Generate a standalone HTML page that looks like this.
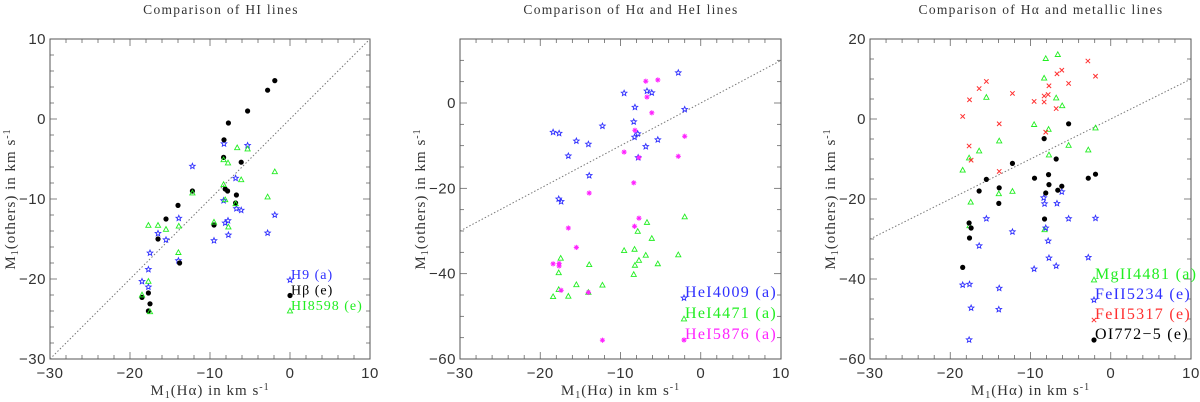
<!DOCTYPE html>
<html><head><meta charset="utf-8"><style>
html,body{margin:0;padding:0;background:#fff;}
svg{display:block;font-family:"Liberation Serif",serif;}
</style></head><body>
<svg id="fig" width="1200" height="402" viewBox="0 0 1200 402"></svg>
<script>
// Panel 1 data (HI lines)
const p1HdotsX=[-1.9,-2.8,-5.3,-7.7,-8.25,-8.3,-6.1,-8.1,-7.8,-6.7,-6.8,-9.5,-12.2,-14.0,-15.5,-16.5,-13.8,-17.7,-18.5,-17.5,-17.7];
const p1HdotsY=[4.8,3.6,1.0,-0.5,-2.6,-4.8,-5.4,-8.75,-9.0,-9.5,-10.5,-13.25,-9.0,-10.8,-12.5,-15.0,-18.0,-21.75,-22.3,-23.1,-24.0];
const p1H9X=[-5.3,-8.25,-12.2,-6.8,-8.3,-6.7,-6.1,-1.9,-7.75,-8.1,-2.8,-7.7,-9.5,-13.9,-16.5,-15.5,-17.5,-13.95,-17.7,-17.7,-18.5];
const p1H9Y=[-3.3,-3.1,-5.9,-7.4,-10.2,-11.2,-11.4,-12.0,-12.7,-13.0,-14.25,-14.5,-15.2,-12.4,-14.3,-15.1,-16.75,-17.7,-18.8,-21.0,-20.3];
const p1HIX=[-6.6,-5.3,-8.3,-7.75,-6.1,-1.9,-8.3,-12.2,-2.8,-8.1,-6.8,-9.5,-7.7,-17.7,-16.5,-15.5,-13.9,-13.95,-17.7,-18.5,-17.5];
const p1HIY=[-3.6,-3.75,-5.1,-5.5,-7.6,-6.6,-8.2,-9.25,-9.75,-10.1,-10.6,-12.9,-13.5,-13.3,-13.3,-13.8,-13.4,-16.7,-20.3,-22.0,-24.1];
// Panel 2 data (HeI lines)
const p2He4009X=[-2.8,-9.55,-6.7,-6.1,-2.0,-8.2,-8.35,-12.25,-18.4,-17.65,-7.85,-8.25,-5.35,-15.5,-14.0,-6.85,-7.8,-16.5,-13.9,-17.7,-17.4];
const p2He4009Y=[7.1,2.3,2.8,2.4,-1.5,-1.0,-4.4,-5.4,-6.85,-7.1,-7.2,-8.0,-8.6,-8.9,-9.65,-10.2,-12.8,-12.4,-17.0,-22.5,-23.1];
const p2He5876X=[-6.85,-5.35,-6.7,-6.1,-8.2,-2.0,-9.55,-2.8,-7.7,-8.35,-13.9,-7.7,-8.25,-16.5,-15.5,-18.4,-17.65,-17.65,-17.4,-14.0,-12.25];
const p2He5876Y=[5.1,5.4,1.4,-2.3,-6.4,-7.8,-11.5,-12.5,-12.8,-18.7,-21.1,-27.0,-28.9,-29.3,-33.85,-37.7,-37.6,-38.2,-43.9,-44.4,-55.6];
const p2He4471X=[-2.0,-6.7,-7.85,-6.1,-9.55,-8.25,-2.8,-6.85,-7.7,-17.45,-13.9,-8.2,-5.35,-17.7,-8.35,-15.5,-12.25,-17.7,-14.0,-16.5,-18.4];
const p2He4471Y=[-26.7,-28.0,-30.1,-31.75,-34.6,-34.3,-35.6,-35.7,-36.9,-36.4,-37.9,-38.05,-37.7,-39.8,-40.2,-42.6,-42.7,-43.75,-44.4,-45.3,-45.4];
// Panel 3 data (metallic lines)
const p3OIX=[-5.25,-8.3,-6.8,-12.25,-7.75,-1.9,-9.5,-2.8,-15.5,-7.7,-6.1,-13.9,-6.6,-16.4,-8.1,-13.95,-8.25,-17.65,-17.4,-17.6,-18.45];
const p3OIY=[-1.2,-4.9,-10.0,-11.1,-13.9,-13.8,-14.8,-14.8,-15.1,-16.4,-16.8,-17.2,-17.8,-18.0,-18.5,-21.1,-25.0,-26.0,-27.25,-29.75,-37.1];
const p3MgX=[-6.6,-8.1,-8.3,-15.5,-6.8,-6.05,-9.55,-7.75,-1.9,-13.9,-5.25,-16.4,-2.8,-7.7,-17.65,-18.45,-12.25,-13.95,-17.45,-17.6,-8.25];
const p3MgY=[16.1,15.1,10.2,5.4,5.25,3.3,-1.4,-2.6,-2.25,-5.5,-6.6,-8.0,-7.75,-9.0,-9.75,-12.8,-18.1,-18.7,-20.8,-26.7,-27.7];
const p3Fe5317X=[-2.85,-6.1,-6.7,-1.9,-15.5,-7.7,-5.25,-16.4,-12.25,-7.8,-8.3,-17.6,-9.55,-8.3,-6.8,-18.45,-13.9,-8.1,-17.65,-17.4,-13.9];
const p3Fe5317Y=[14.5,12.2,11.3,10.7,9.4,8.3,8.9,7.6,6.4,6.1,5.75,4.8,4.4,4.25,2.6,0.65,-1.2,-3.3,-6.75,-10.3,-13.1];
const p3Fe5234X=[-6.1,-8.35,-8.25,-6.7,-15.5,-5.25,-1.9,-8.1,-12.25,-7.8,-16.4,-7.7,-2.8,-6.8,-9.55,-18.45,-17.6,-13.9,-17.4,-13.95,-17.65];
const p3Fe5234Y=[-18.2,-19.7,-21.2,-21.1,-24.9,-24.9,-24.8,-27.25,-28.2,-30.5,-31.7,-34.75,-34.6,-36.75,-37.5,-41.5,-41.3,-42.3,-47.25,-47.6,-55.2];

const NS="http://www.w3.org/2000/svg";
const svg=document.getElementById('fig');
function mk(tag,attrs,parent){const e=document.createElementNS(NS,tag);for(const k in attrs)e.setAttribute(k,attrs[k]);(parent||svg).appendChild(e);return e;}
const COL={blue:"#3030ff",black:"#000",green:"#22ee22",magenta:"#ff22ff",red:"#ff3030"};

function marker(g,type,px,py,color){
  let e;
  if(type==='dot'){e=mk('circle',{cx:px,cy:py,r:2.6,fill:color},g);}
  else if(type==='tri'){e=mk('polygon',{points:`${px},${py-2.8} ${px-2.6},${py+1.9} ${px+2.6},${py+1.9}`,fill:'none',stroke:color,'stroke-width':0.9},g);}
  else if(type==='star'){let pts=[];for(let i=0;i<10;i++){const a=-Math.PI/2+i*Math.PI/5;const r=i%2?1.3:2.9;pts.push((px+r*Math.cos(a)).toFixed(2)+','+(py+r*Math.sin(a)).toFixed(2));}
    e=mk('polygon',{points:pts.join(' '),fill:'none',stroke:color,'stroke-width':0.9},g);}
  else if(type==='ast'){e=mk('g',{},g);for(let i=0;i<4;i++){const a=i*Math.PI/4;mk('line',{x1:px-2.6*Math.cos(a),y1:py-2.6*Math.sin(a),x2:px+2.6*Math.cos(a),y2:py+2.6*Math.sin(a),stroke:color,'stroke-width':1},e);}mk('circle',{cx:px,cy:py,r:1.2,fill:color},e);}
  else if(type==='cross'){e=mk('g',{},g);mk('line',{x1:px-2.2,y1:py-2.2,x2:px+2.2,y2:py+2.2,stroke:color,'stroke-width':1},e);mk('line',{x1:px-2.2,y1:py+2.2,x2:px+2.2,y2:py-2.2,stroke:color,'stroke-width':1},e);}
  return e;
}

function panel(cfg){
  const g=mk('g',{});
  
  
  const {x0,x1,y0,y1,xmin,xmax,ymin,ymax}=cfg;
  const sx=v=>x0+(v-xmin)/(xmax-xmin)*(x1-x0);
  const sy=v=>y1-(v-ymin)/(ymax-ymin)*(y1-y0);
  const tg=mk('g',{stroke:'#666','stroke-width':0.8},g);
  for(let v=xmin;v<=xmax+1e-9;v+=2){const maj=Math.abs(v%10)<1e-9;const L=maj?7:4;const X=sx(v);
    mk('line',{x1:X,y1:y1,x2:X,y2:y1-L},tg);mk('line',{x1:X,y1:y0,x2:X,y2:y0+L},tg);}
  for(let v=Math.ceil(ymin/cfg.ymin_step)*cfg.ymin_step;v<=ymax+1e-9;v+=cfg.ymin_step){const maj=Math.abs(v%cfg.ymaj)<1e-9;const L=maj?7:4;const Y=sy(v);
    mk('line',{x1:x0,y1:Y,x2:x0+L,y2:Y},tg);mk('line',{x1:x1,y1:Y,x2:x1-L,y2:Y},tg);}
  const fr=mk('rect',{x:x0,y:y0,width:x1-x0,height:y1-y0,fill:'none',stroke:'#555','stroke-width':1},g);
  
  
  for(let v=xmin;v<=xmax;v+=10){const t=mk('text',{x:sx(v),y:y1+19,'text-anchor':'middle','font-size':15,fill:'#333','font-family':'Liberation Sans, sans-serif','letter-spacing':'0.5'},g);t.textContent=(v<0?'\u2212'+(-v):v);
    }
  for(let v=Math.ceil(ymin/cfg.ymaj)*cfg.ymaj;v<=ymax;v+=cfg.ymaj){const t=mk('text',{x:x0-4,y:sy(v)+5,'text-anchor':'end','font-size':15,fill:'#333','font-family':'Liberation Sans, sans-serif','letter-spacing':'0.5'},g);t.textContent=(v<0?'\u2212'+(-v):v);
    }
  const lo=Math.max(xmin,ymin),hi=Math.min(xmax,ymax);
  const dl=mk('line',{x1:sx(lo),y1:sy(lo),x2:sx(hi),y2:sy(hi),stroke:'#777','stroke-width':1,'stroke-dasharray':'1.5,2'},g);
  
  cfg.series.forEach(s=>{
    const sg=mk('g',{},g);
    
    
    s.xs.forEach((xv,i)=>{const m=marker(sg,s.type,sx(xv),sy(s.ys[i]),s.color);
      
      });
  });
  cfg.series.forEach((s,i)=>{const lx=cfg.lx,ly=cfg.ly+i*cfg.ldy;
    const lg=mk('g',{},g);
    
    
    marker(lg,s.type,lx,ly,s.color);
    const t=mk('text',{x:lx+1,y:ly-1,'font-size':cfg.lfs,fill:s.color,'letter-spacing':cfg.lls},lg);t.innerHTML=s.label;});
  const tt=mk('text',{x:cfg.tx,y:14,'text-anchor':'middle','font-size':13.5,fill:'#333','letter-spacing':'1.3'},g);tt.textContent=cfg.title;
  
  const xl=mk('text',{x:(x0+x1)/2,y:395,'text-anchor':'middle','font-size':15,fill:'#333','letter-spacing':'1'},g);
  xl.innerHTML='M<tspan font-size="10" dy="3">1</tspan><tspan dy="-3">(H\u03b1) in km s</tspan><tspan font-size="10" dy="-5">-1</tspan>';
  
  const yl=mk('text',{x:0,y:0,'text-anchor':'middle','font-size':15,fill:'#333','letter-spacing':'1',transform:`translate(${cfg.ylx},${(y0+y1)/2}) rotate(-90)`},g);
  yl.innerHTML='M<tspan font-size="10" dy="3">1</tspan><tspan dy="-3">(others) in km s</tspan><tspan font-size="10" dy="-5">-1</tspan>';
  
}

panel({name:'panel-hi-lines',x0:50,x1:370,y0:39,y1:359,xmin:-30,xmax:10,ymin:-30,ymax:10,ymin_step:2,ymaj:10,
  title:'Comparison of HI lines',tx:221,ylx:15,lx:290,ly:280,ldy:15.5,lfs:14,lls:'1',
  series:[{name:'h9-series',type:'star',color:COL.blue,xs:p1H9X,ys:p1H9Y,label:'H9 (a)'},
          {name:'hbeta-series',type:'dot',color:COL.black,xs:p1HdotsX,ys:p1HdotsY,label:'H\u03b2 (e)'},
          {name:'hi8598-series',type:'tri',color:COL.green,xs:p1HIX,ys:p1HIY,label:'HI8598 (e)'}]});
panel({name:'panel-hei-lines',x0:460,x1:781,y0:39,y1:359,xmin:-30,xmax:10,ymin:-60,ymax:15,ymin_step:5,ymaj:20,
  title:'Comparison of H\u03b1 and HeI lines',tx:631,ylx:425,lx:684,ly:298,ldy:21,lfs:16,lls:'1.3',
  series:[{name:'hei4009-series',type:'star',color:COL.blue,xs:p2He4009X,ys:p2He4009Y,label:'HeI4009 (a)'},
          {name:'hei4471-series',type:'tri',color:COL.green,xs:p2He4471X,ys:p2He4471Y,label:'HeI4471 (a)'},
          {name:'hei5876-series',type:'ast',color:COL.magenta,xs:p2He5876X,ys:p2He5876Y,label:'HeI5876 (a)'}]});
panel({name:'panel-metallic-lines',x0:870,x1:1191,y0:39,y1:359,xmin:-30,xmax:10,ymin:-60,ymax:20,ymin_step:5,ymaj:20,
  title:'Comparison of H\u03b1 and metallic lines',tx:1041,ylx:835,lx:1094,ly:280,ldy:20,lfs:16,lls:'1.3',
  series:[{name:'mgii4481-series',type:'tri',color:COL.green,xs:p3MgX,ys:p3MgY,label:'MgII4481 (a)'},
          {name:'feii5234-series',type:'star',color:COL.blue,xs:p3Fe5234X,ys:p3Fe5234Y,label:'FeII5234 (e)'},
          {name:'feii5317-series',type:'cross',color:COL.red,xs:p3Fe5317X,ys:p3Fe5317Y,label:'FeII5317 (e)'},
          {name:'oi772-series',type:'dot',color:COL.black,xs:p3OIX,ys:p3OIY,label:'OI772\u22125 (e)'}]});
</script>
</body></html>
